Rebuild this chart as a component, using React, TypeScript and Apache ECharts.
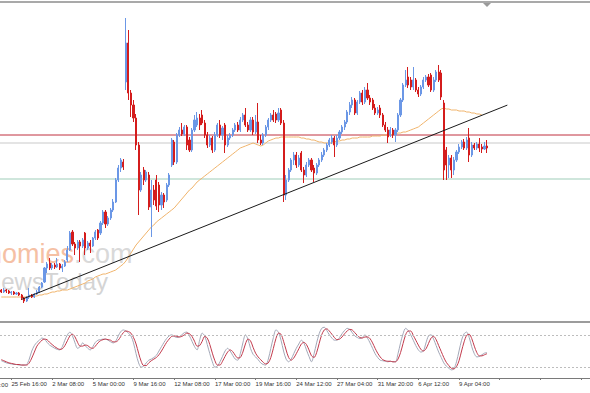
import React, { useEffect, useRef } from "react";
import * as echarts from "echarts";

// H4 bars, price in arbitrary index units
const opens = [
  40,38,40,39,37,38,36,37,35,32,
  29,33,35,33,36,38,43,48,62,67,
  62,65,63,66,62,64,70,80,98,86,
  82,88,84,97,82,87,84,92,100,97,
  107,118,106,112,120,128,150,162,168,248,
  287,237,225,212,185,140,160,150,155,123,
  140,150,145,125,135,130,145,165,188,168,
  195,200,196,203,190,180,200,205,212,215,
  207,195,185,192,180,195,205,195,205,185,
  192,195,200,205,200,210,215,205,200,210,
  198,208,190,187,195,203,210,215,216,210,
  220,207,135,150,160,170,175,165,177,160,
  155,165,170,162,157,165,170,175,180,185,
  188,192,185,192,198,203,208,218,225,230,
  217,228,237,228,240,232,230,222,217,222,
  215,205,200,195,200,195,200,215,230,245,
  253,250,243,250,240,236,243,250,253,255,
  240,250,258,257,227,180,165,172,160,170,
  178,183,188,182,192,175,185,182,186,183,
  181,184,
];
const closes = [
  38,40,39,37,38,36,37,35,32,29,
  33,35,33,36,38,43,47,62,66,62,
  65,63,66,62,64,68,80,97,86,82,
  88,84,90,82,87,84,92,98,92,107,
  118,106,112,120,128,150,162,170,163,287,
  237,225,212,185,140,155,150,158,123,140,
  130,124,125,135,128,145,155,190,168,195,
  200,196,203,185,180,200,210,212,205,207,
  195,185,192,180,195,205,195,202,185,192,
  195,200,205,200,210,215,205,200,210,198,
  208,190,187,195,203,210,215,210,210,217,
  207,135,150,160,170,175,165,172,160,155,
  165,170,160,157,165,170,175,180,185,190,
  192,185,192,198,203,208,218,225,230,217,
  228,237,228,240,232,228,222,217,220,215,
  205,200,193,200,195,200,215,230,245,250,
  245,243,250,240,236,243,250,253,245,240,
  250,258,250,233,160,165,172,160,170,178,
  183,188,182,190,175,185,182,186,182,181,
  184,182,
];
const lows = [
  37,37,37,36,35,35,35,34,30,27,
  28,31,32,32,35,37,42,47,57,60,
  60,61,62,60,58,63,68,79,84,75,
  80,68,82,75,80,77,83,90,90,95,
  105,102,104,110,118,127,148,158,160,240,
  230,213,208,180,115,138,145,148,120,93,
  125,120,118,120,122,128,143,163,165,166,
  193,194,194,180,178,178,198,203,200,205,
  192,182,183,177,178,193,192,190,177,183,
  190,193,198,198,198,208,203,198,198,195,
  196,187,185,185,193,200,208,208,207,208,
  205,128,130,148,158,165,162,163,158,147,
  153,163,158,148,155,163,168,173,178,183,
  186,173,183,190,196,200,206,215,222,215,
  215,226,225,226,230,225,220,215,215,212,
  203,198,187,193,192,188,198,213,228,243,
  242,240,240,238,233,234,241,248,243,238,
  238,248,248,230,150,150,152,152,155,168,
  176,181,180,180,168,173,180,180,178,177,
  180,177,
];
const highs = [
  41,42,41,40,39,39,38,38,36,33,
  34,42,36,37,40,44,48,63,68,72,
  67,67,72,67,66,70,84,99,100,88,
  90,90,92,98,89,90,93,100,101,109,
  120,120,114,122,131,152,165,172,171,312,
  300,240,230,216,188,158,163,160,158,150,
  145,155,148,138,137,147,157,192,190,197,
  203,207,205,205,193,202,215,218,216,220,
  210,198,195,194,198,207,210,204,207,195,
  197,202,207,208,213,217,222,208,213,213,
  215,227,195,197,205,212,217,220,218,222,
  222,210,155,162,172,178,178,175,179,163,
  168,172,172,165,167,172,178,182,187,192,
  195,194,195,200,205,210,220,228,233,232,
  230,239,240,243,247,235,232,226,223,225,
  217,208,203,203,202,202,217,232,247,260,
  263,253,263,252,243,245,253,255,256,257,
  253,260,265,260,230,183,175,175,173,180,
  186,190,191,193,202,188,187,188,192,186,
  188,190,
];
const movingAverage = [
  33,33,33,33,33,33,33,33,33,33,
  33,33,34,34,34,35,35,36,36,37,
  38,38,39,39,40,40,40,41,42,43,
  44,45,46,47,49,50,51,53,54,55,
  56,56,57,58,59,60,62,64,66,69,
  73,77,81,85,88,91,94,97,100,103,
  105,108,110,112,114,116,118,120,122,125,
  128,131,134,137,140,142,145,148,150,152,
  154,156,158,160,162,164,166,168,170,172,
  174,176,178,180,182,183,184,185,186,187,
  186,185,184,185,187,189,190,191,192,192,
  193,193,193,193,193,193,193,193,192,192,
  191,191,190,190,189,188,188,187,187,187,
  187,188,189,189,190,190,191,191,192,192,
  192,193,193,193,193,193,194,194,194,194,
  195,195,195,195,196,196,197,197,198,198,
  199,200,201,202,203,205,207,209,211,213,
  215,217,219,221,222,221,221,220,220,220,
  219,219,219,218,218,217,217,216,216,215,
];
const stochMain = [
  32,30,28,27,26,25,25,24,24,24,
  25,35,50,60,66,70,74,72,66,61,
  58,55,53,52,58,70,80,85,78,65,
  55,58,65,60,55,52,58,66,70,71,
  72,72,70,67,65,68,78,86,89,87,
  83,78,65,45,28,20,22,28,33,35,
  38,42,50,58,66,73,78,80,77,75,
  76,80,84,85,78,68,58,52,70,83,
  78,62,45,30,20,22,30,40,50,55,
  50,42,35,33,45,65,80,72,55,44,
  39,34,28,25,24,35,55,75,89,85,
  70,50,35,30,35,45,55,63,70,65,
  52,40,30,45,65,82,92,94,88,80,
  74,70,70,75,82,88,92,90,84,78,
  75,73,75,80,74,65,55,45,38,33,
  32,31,30,31,30,30,45,65,82,92,
  88,80,70,60,52,48,50,65,78,80,
  72,60,48,38,28,22,18,15,17,30,
  50,70,82,85,75,58,45,39,40,43,
  46,47,
];
const stochSignal = [
  34,32,30,28,27,26,25,25,24,24,
  24,28,37,48,59,65,70,72,71,66,
  62,58,55,53,54,60,69,78,81,76,
  66,59,59,61,60,56,55,59,65,69,
  71,72,71,70,67,67,70,77,84,87,
  86,83,75,63,46,31,23,23,28,32,
  35,38,43,50,58,66,72,77,78,77,
  76,77,80,83,82,77,68,59,60,68,
  77,74,62,46,32,24,24,31,40,48,
  52,49,42,37,38,48,63,72,69,57,
  46,39,34,29,26,28,38,55,73,83,
  81,68,52,38,33,37,45,54,63,66,
  62,52,41,38,47,64,80,89,91,87,
  81,75,71,72,76,82,87,90,89,84,
  79,75,74,76,76,73,65,55,46,39,
  34,32,31,31,30,30,35,47,64,80,
  87,87,79,70,61,53,50,54,64,74,
  77,71,60,49,38,29,23,18,17,21,
  32,50,67,79,81,73,59,47,41,41,
  43,45,
];
const tickLabels = [
  "25 Feb 16:00", "2 Mar 08:00", "5 Mar 00:00", "9 Mar 16:00", "12 Mar 08:00",
  "17 Mar 00:00", "19 Mar 16:00", "24 Mar 12:00", "27 Mar 04:00", "31 Mar 20:00",
  "6 Apr 12:00", "9 Apr 04:00",
];
const cutLabel = "21 Feb 16:00";
const firstTickBar = 4;
const tickEvery = 16;
const slotCount = 232;
const levels = [187, 151, 195];
const levelColors = ["#c9c9c9", "#9fcdb9", "#c0303f"];
const trendLine = [[8, 30.6], [199, 224.9]];
const stochLevels = [80, 20];

const slots = Array.from({ length: slotCount }, (_, i) => String(i));
const isTick = (i: number) => i >= firstTickBar && (i - firstTickBar) % tickEvery === 0;

export default function App() {
  const ref = useRef<HTMLDivElement>(null);
  useEffect(() => {
    if (!ref.current) return;
    const chart = echarts.init(ref.current, undefined, { renderer: "svg" });
    const candles = opens.map((o, i) => [o, closes[i], lows[i], highs[i]]);
    const levelSeries = levels.map((v, k) => ({
      type: "line",
      xAxisIndex: 2,
      yAxisIndex: 0,
      data: [[0, v], [1, v]],
      symbol: "none",
      z: 2,
      silent: true,
      lineStyle: { color: levelColors[k], width: 1, type: "solid" },
    }));
    chart.setOption({
      animation: false,
      backgroundColor: "#ffffff",
      textStyle: { fontFamily: "Liberation Sans" },
      grid: [
        { left: 0, right: 0, top: 5, height: 315 },
        { left: 0, right: 0, top: 324, height: 54 },
      ],
      xAxis: [
        { type: "category", data: slots, gridIndex: 0, show: false, boundaryGap: true },
        {
          type: "category",
          data: slots,
          gridIndex: 1,
          boundaryGap: true,
          axisLine: { lineStyle: { color: "#7a7a7a", width: 1 } },
          axisTick: {
            show: true,
            interval: (i: number) => isTick(i),
            alignWithLabel: true,
            length: 2,
            lineStyle: { color: "#7a7a7a" },
          },
          axisLabel: {
            interval: (i: number) => isTick(i),
            formatter: (_v: string, i: number) =>
              tickLabels[(i - firstTickBar) / tickEvery] ?? "",
            align: "left",
            fontSize: 6,
            color: "#333333",
            margin: 3,
            fontFamily: "Liberation Sans",
          },
        },
        { type: "value", gridIndex: 0, min: 0, max: 1, show: false },
      ],
      yAxis: [
        { type: "value", gridIndex: 0, min: 10, max: 325, show: false },
        { type: "value", gridIndex: 1, min: 0, max: 100, show: false },
      ],
      graphic: [
        {
          type: "text",
          x: 74,
          y: 267,
          z: -10,
          style: {
            text: "Economies",
            align: "right",
            verticalAlign: "bottom",
            font: "27px 'Liberation Sans'",
            fill: "#f5c0a4",
          },
        },
        {
          type: "text",
          x: 74,
          y: 267,
          z: -10,
          style: {
            text: ".com",
            align: "left",
            verticalAlign: "bottom",
            font: "27px 'Liberation Sans'",
            fill: "#d9d9d9",
          },
        },
        {
          type: "text",
          x: 108,
          y: 293,
          z: -10,
          style: {
            text: "NewsToday",
            align: "right",
            verticalAlign: "bottom",
            font: "24px 'Liberation Sans'",
            fill: "#d4d4d4",
          },
        },
        { type: "rect", shape: { x: 0, y: 1, width: 590, height: 2 }, style: { fill: "#a9a9a9" } },
        { type: "rect", shape: { x: 0, y: 321, width: 590, height: 2 }, style: { fill: "#9c9c9c" } },
        {
          type: "polygon",
          shape: { points: [[483, 3], [491, 3], [487, 7]] },
          style: { fill: "#9a9a9a" },
        },
        {
          type: "text",
          x: 8,
          y: 385,
          style: {
            text: cutLabel,
            align: "right",
            verticalAlign: "middle",
            font: "6px 'Liberation Sans'",
            fill: "#333333",
          },
        },
      ],
      series: [
        ...levelSeries,
        {
          type: "line",
          xAxisIndex: 0,
          yAxisIndex: 0,
          data: movingAverage,
          symbol: "none",
          z: 2,
          lineStyle: { color: "#f0b46c", width: 1 },
        },
        {
          type: "candlestick",
          xAxisIndex: 0,
          yAxisIndex: 0,
          data: candles,
          barWidth: 1.6,
          z: 3,
          itemStyle: {
            color: "#6b97e6",
            color0: "#d41c1c",
            borderColor: "#6b97e6",
            borderColor0: "#d41c1c",
            borderWidth: 1,
          },
          markLine: {
            silent: true,
            symbol: ["none", "none"],
            label: { show: false },
            lineStyle: { type: "solid", width: 1, color: "#1a1a1a" },
            data: [[{ coord: trendLine[0] }, { coord: trendLine[1] }]],
          },
        },
        {
          type: "line",
          xAxisIndex: 1,
          yAxisIndex: 1,
          data: stochMain,
          symbol: "none",
          smooth: 0.3,
          lineStyle: { color: "#a3a8b8", width: 1 },
          markLine: {
            silent: true,
            symbol: ["none", "none"],
            label: { show: false },
            lineStyle: { type: [2, 2], color: "#bdbdbd", width: 1 },
            data: stochLevels.map((v) => ({ yAxis: v })),
          },
        },
        {
          type: "line",
          xAxisIndex: 1,
          yAxisIndex: 1,
          data: stochSignal,
          symbol: "none",
          smooth: 0.3,
          lineStyle: { color: "#c23a4c", width: 1 },
        },
      ],
    });
    return () => chart.dispose();
  }, []);
  return (
    <div
      ref={ref}
      style={{ position: "fixed", left: 0, top: 0, width: 590, height: 393 }}
    />
  );
}
